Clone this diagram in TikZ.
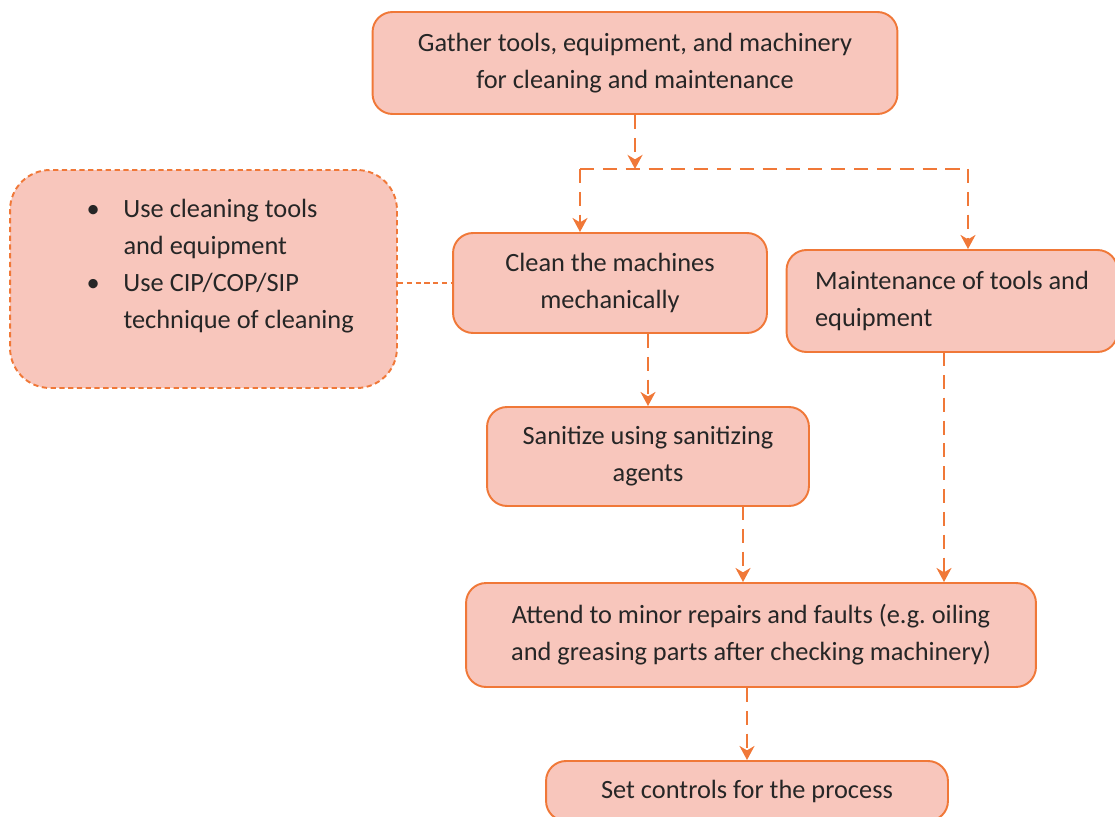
\documentclass[tikz,border=0pt]{standalone}
\usepackage{fontspec}
\setmainfont{Carlito}
\usepackage{array}
\usetikzlibrary{arrows.meta}
\definecolor{boxfill}{HTML}{F8C6BC}
\definecolor{boxline}{HTML}{F07838}
\definecolor{boxtext}{HTML}{262626}

\tikzset{
    stepbox/.style={draw=boxline, fill=boxfill, line width=1.1pt,
        rounded corners=0.4cm, text=boxtext, align=center,
        font=\fontsize{15}{21}\selectfont},
    flow/.style={draw=boxline, line width=1.6pt,
        dash pattern=on 8pt off 5pt,
        -{Stealth[length=8pt,width=8.5pt,inset=2.5pt]}},
    link/.style={draw=boxline, line width=1pt, dash pattern=on 3pt off 2pt}
}

\begin{document}
\begin{tikzpicture}[x=0.02cm, y=-0.02cm]
    \useasboundingbox (0,0) rectangle (1115,817);

    \node [stepbox,
        minimum width=10.5cm,
        minimum height=2.04cm
    ]  (Gather) at (635,63) {Gather tools, equipment, and machinery\\for cleaning and maintenance};
    \node [stepbox,
        dash pattern=on 3pt off 2pt,
        rounded corners=0.8cm,
        align=left,
        minimum width=7.74cm,
        minimum height=4.36cm
    ]  (Tips) at (203.5,279) {\begin{tabular}{@{\hspace{19pt}}p{21pt}@{}l@{}}
        \textbullet & Use cleaning tools\\
                    & and equipment\\
        \textbullet & Use CIP/COP/SIP\\
                    & technique of cleaning\\[15pt]
    \end{tabular}};
    \node [stepbox,
        minimum width=6.28cm,
        minimum height=2cm
    ]  (Clean) at (610,283) {Clean the machines\\mechanically};
    \node [stepbox,
        align=left,
        minimum width=6.62cm,
        minimum height=2.04cm
    ]  (Maint) at (952,301) {Maintenance of tools and\\equipment};
    \node [stepbox,
        minimum width=6.44cm,
        minimum height=1.98cm
    ]  (Sanitize) at (648,456.5) {Sanitize using sanitizing\\agents};
    \node [stepbox,
        minimum width=11.4cm,
        minimum height=2.08cm
    ]  (Attend) at (751,635) {Attend to minor repairs and faults (e.g.\ oiling\\and greasing parts after checking machinery)};
    \node [stepbox,
        minimum width=8.04cm,
        minimum height=1.2cm
    ]  (Controls) at (747,791) {Set controls for the process};

    % branch points
    \coordinate (Split) at (635,169);
    \coordinate (SplitL) at (580,169);
    \coordinate (SplitR) at (968,169);
    % drop points into the repair box
    \coordinate (DropS) at (743,506);
    \coordinate (DropM) at (944,352);

    \draw [flow] (Gather.south) -- (Split);
    \draw [flow, -] (SplitL) -- (SplitR);
    \draw [flow] (SplitL) -- (SplitL |- Clean.north);
    \draw [flow] (SplitR) -- (SplitR |- Maint.north);
    \draw [flow] (Clean.south -| Sanitize.north) -- (Sanitize.north);
    \draw [flow] (DropS) -- (DropS |- Attend.north);
    \draw [flow] (DropM) -- (DropM |- Attend.north);
    \draw [flow] (Attend.south -| Controls.north) -- (Controls.north);
    \draw [link] (Tips.east |- Clean.west) -- (Clean.west);

\end{tikzpicture}
\end{document}
